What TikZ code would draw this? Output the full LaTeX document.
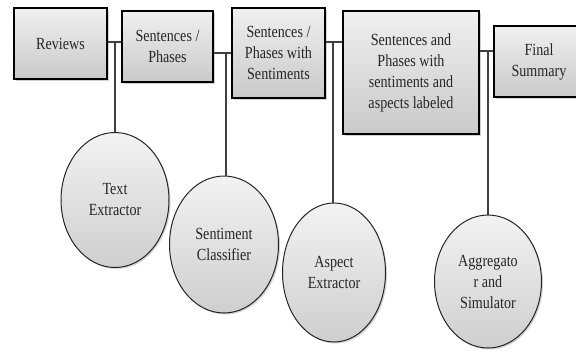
\documentclass[tikz,border=0pt]{standalone}
\usepackage{fontspec}
\setmainfont{Liberation Serif}[FakeStretch=0.83]
\usetikzlibrary{shadows,shapes.geometric}
\begin{document}
\begin{tikzpicture}[x=1pt,y=-1pt,
  boxnode/.style={rectangle, draw=black, line width=1.2pt, top color=gray!12, bottom color=gray!42,
    align=center, inner sep=2pt, font=\fontsize{17}{21}\selectfont, text=black!85,
    drop shadow={shadow xshift=1.5pt, shadow yshift=-1.5pt, opacity=0.35}},
  ellnode/.style={ellipse, draw=black!85, line width=1pt, top color=gray!10, bottom color=gray!38,
    align=center, inner sep=0pt, font=\fontsize{17}{21}\selectfont, text=black!85,
    drop shadow={shadow xshift=1.5pt, shadow yshift=-1.5pt, opacity=0.35}},
  link/.style={draw=black!75, line width=1.1pt}
]
\clip (0,0) rectangle (576,351);
\fill[white] (0,0) rectangle (576,351);

\node[boxnode, minimum width=93pt, minimum height=71pt] (rev) at (60.5,43.5) {Reviews};
\node[boxnode, minimum width=91pt, minimum height=71pt] (sp) at (167.5,46.5) {Sentences /\\Phases};
\node[boxnode, minimum width=93pt, minimum height=90pt] (sps) at (278.5,53) {Sentences /\\Phases with\\Sentiments};
\node[boxnode, minimum width=136pt, minimum height=123pt] (spsa) at (411,72.5) {Sentences and\\Phases with\\sentiments and\\aspects labeled};
\node[boxnode, minimum width=90pt, minimum height=71pt, text width=80pt] (fin) at (539,61.5) {Final\\Summary};

\node[ellnode, minimum width=108pt, minimum height=135pt] (te) at (115,200) {Text\\Extractor};
\node[ellnode, minimum width=109pt, minimum height=137pt] (sc) at (224,244.5) {Sentiment\\Classifier};
\node[ellnode, minimum width=103pt, minimum height=139pt] (ae) at (334,272.5) {Aspect\\Extractor};
\node[ellnode, minimum width=107pt, minimum height=133pt] (ag) at (488,281.5) {Aggregato\\r and\\Simulator};

\coordinate (j1) at (115,42);
\coordinate (j2) at (226,53);
\coordinate (j3) at (333,42);
\coordinate (j4) at (488,51);

\draw[link] (rev.east |- j1) -- (sp.west |- j1);
\draw[link] (j1) -- (te.north);
\draw[link] (sp.east |- j2) -- (sps.west |- j2);
\draw[link] (j2) -- (j2 |- sc.north);
\draw[link] (sps.east |- j3) -- (spsa.west |- j3);
\draw[link] (j3) -- (j3 |- ae.north);
\draw[link] (spsa.east |- j4) -- (fin.west |- j4);
\draw[link] (j4) -- (ag.north);
\end{tikzpicture}
\end{document}
